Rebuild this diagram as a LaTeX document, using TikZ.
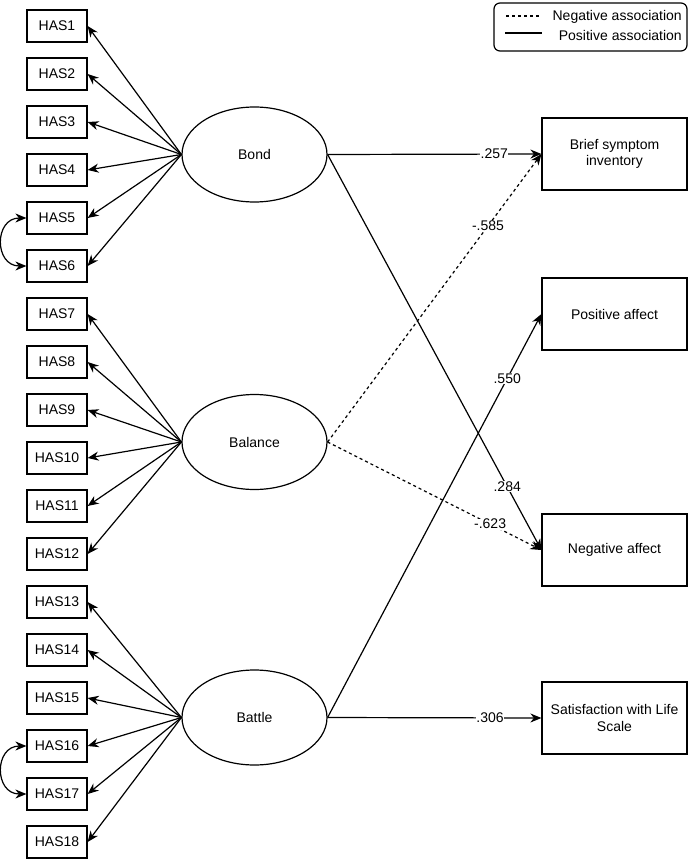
\documentclass[tikz,border=0pt]{standalone}
\usepackage{fontspec}
\setmainfont{Liberation Sans}
\usetikzlibrary{shapes.geometric,arrows.meta}
\tikzset{
  every node/.style={font=\fontsize{14}{16.5}\selectfont},
  tip/.tip={Stealth[length=11pt,width=9pt,inset=3.5pt]},
  item/.style={draw, line width=1.2pt, minimum width=60pt, minimum height=32pt, inner sep=0pt},
  outc/.style={draw, line width=1.2pt, minimum width=145pt, minimum height=72pt, inner sep=0pt, align=center},
  lat/.style={draw, ellipse, line width=1.2pt, minimum width=145pt, minimum height=95pt, inner sep=0pt},
  arr/.style={line width=1.2pt, -tip},
  darr/.style={line width=1.2pt, tip-tip},
  neg/.style={dash pattern=on 3pt off 3pt},
  lbl/.style={fill=white, inner sep=0.5pt}
}
\begin{document}
\begin{tikzpicture}[x=1pt,y=-1pt]
\useasboundingbox (0,0) rectangle (689,861);
% left indicator boxes
\foreach \i in {1,...,18} {
  \node[item] (h\i) at (57,{26+48*(\i-1)}) {HAS\i};
}
% latent ellipses
\node[lat] (bond) at (254.5,154.5) {Bond};
\node[lat] (bal) at (254.5,442) {Balance};
\node[lat] (bat) at (254.5,717.5) {Battle};
% outcome boxes
\node[outc] (bsi) at (614.5,154) {Brief symptom\\inventory};
\node[outc] (pa) at (614.5,314) {Positive affect};
\node[outc] (na) at (614.5,550) {Negative affect};
\node[outc] (swl) at (614.5,718) {Satisfaction with Life\\Scale};
% loadings
\foreach \i in {1,...,6} {\draw[arr] (bond.west) -- (h\i.east);}
\foreach \i in {7,...,12} {\draw[arr] (bal.west) -- (h\i.east);}
\foreach \i in {13,...,18} {\draw[arr] (bat.west) -- (h\i.east);}
% correlated errors
\draw[darr] (h5.west) .. controls (-6,218) and (-6,266) .. (h6.west);
\draw[darr] (h16.west) .. controls (-6,746) and (-6,794) .. (h17.west);
% structural paths
\draw[arr] (bond.east) -- node[lbl, pos=0.78] {.257} (bsi.west);
\draw[arr, neg] (bal.east) -- node[lbl, pos=0.75] {-.585} (bsi.west);
\draw[arr] (bond.east) -- node[lbl, pos=0.84] {.284} (na.west);
\draw[arr, neg] (bal.east) -- node[lbl, pos=0.76] {-.623} (na.west);
\draw[arr] (bat.east) -- node[lbl, pos=0.84] {.550} (pa.west);
\draw[arr] (bat.east) -- node[lbl, pos=0.76] {.306} (swl.west);
% legend
\node[draw, line width=1.2pt, rounded corners=6pt, minimum width=193pt, minimum height=48pt] (leg) at (590.5,27) {};
\coordinate (n1) at (506,16);
\coordinate (n2) at (540,16);
\coordinate (p1) at (505,33);
\coordinate (p2) at (542,33);
\draw[line width=1.2pt, neg] (n1) -- (n2);
\draw[line width=1.2pt] (p1) -- (p2);
\node[anchor=east, inner sep=0pt] (lt1) at (682,17) {Negative association};
\node[anchor=east, inner sep=0pt] (lt2) at (682,35) {Positive association};
\end{tikzpicture}
\end{document}
